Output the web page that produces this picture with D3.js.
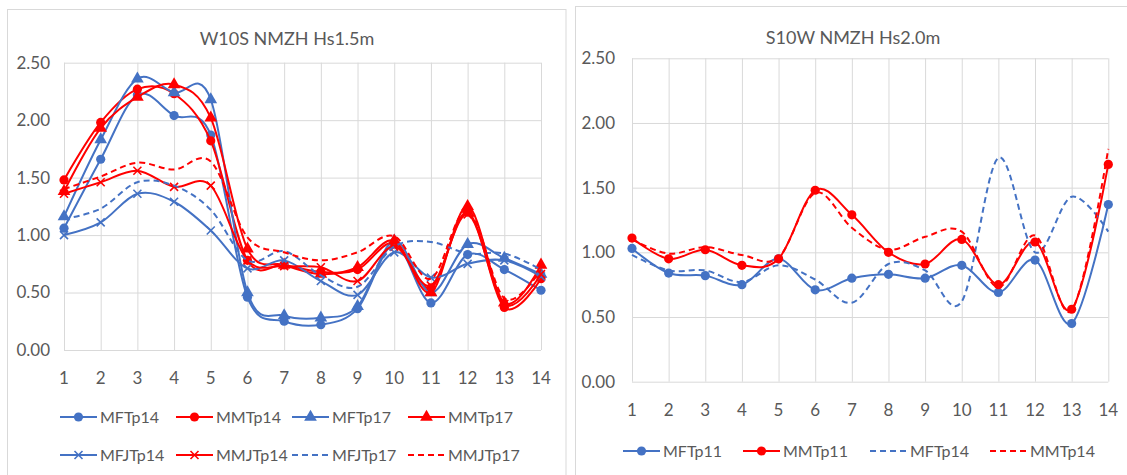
<!DOCTYPE html>
<html>
<head>
<meta charset="utf-8">
<script src="https://cdn.jsdelivr.net/npm/d3@7"></script>
<style>
  body { margin: 0; background: #fff; }
  text { font-family: Lato, "Open Sans", sans-serif; fill: #595959; }
</style>
</head>
<body>
<svg id="chart" width="1127" height="475"></svg>
<script>
// x positions (same for both panels)
var xTicks = [1, 2, 3, 4, 5, 6, 7, 8, 9, 10, 11, 12, 13, 14];
var yTicks = [0, 0.5, 1.0, 1.5, 2.0, 2.5];

// left panel: W10S NMZH Hs1.5m
var leftTitle = "W10S NMZH Hs1.5m";
var leftNames = ["MFTp14", "MMTp14", "MFTp17", "MMTp17", "MFJTp14", "MMJTp14", "MFJTp17", "MMJTp17"];
var MFTp14  = [1.06, 1.66, 2.22, 2.04, 1.87, 0.46, 0.25, 0.22, 0.36, 0.92, 0.41, 0.83, 0.70, 0.52];
var MMTp14  = [1.48, 1.98, 2.27, 2.23, 1.82, 0.78, 0.74, 0.68, 0.70, 0.93, 0.54, 1.20, 0.37, 0.62];
var MFTp17  = [1.16, 1.83, 2.36, 2.24, 2.18, 0.50, 0.30, 0.28, 0.38, 0.95, 0.50, 0.92, 0.80, 0.66];
var MMTp17  = [1.38, 1.93, 2.20, 2.31, 2.02, 0.88, 0.74, 0.66, 0.72, 0.95, 0.50, 1.25, 0.41, 0.74];
var MFJTp14 = [1.00, 1.11, 1.36, 1.29, 1.04, 0.71, 0.78, 0.60, 0.48, 0.85, 0.63, 0.75, 0.78, 0.64];
var MMJTp14 = [1.36, 1.46, 1.56, 1.42, 1.43, 0.78, 0.73, 0.72, 0.60, 0.90, 0.56, 1.18, 0.40, 0.66];
var MFJTp17 = [1.14, 1.23, 1.46, 1.43, 1.22, 0.78, 0.86, 0.65, 0.55, 0.90, 0.94, 0.84, 0.84, 0.70];
var MMJTp17 = [1.40, 1.51, 1.63, 1.57, 1.64, 0.98, 0.85, 0.78, 0.85, 0.99, 0.62, 1.22, 0.45, 0.70];

// right panel: S10W NMZH Hs2.0m
var rightTitle = "S10W NMZH Hs2.0m";
var rightNames = ["MFTp11", "MMTp11", "MFTp14", "MMTp14"];
var R_MFTp11 = [1.03, 0.84, 0.82, 0.75, 0.95, 0.71, 0.80, 0.83, 0.80, 0.90, 0.69, 0.94, 0.45, 1.37];
var R_MMTp11 = [1.11, 0.95, 1.02, 0.90, 0.95, 1.48, 1.29, 1.00, 0.91, 1.10, 0.75, 1.08, 0.56, 1.68];
var R_MFTp14 = [0.98, 0.86, 0.86, 0.77, 0.90, 0.79, 0.61, 0.91, 0.86, 0.62, 1.73, 1.00, 1.43, 1.16];
var R_MMTp14 = [1.10, 0.99, 1.04, 0.98, 0.96, 1.46, 1.19, 1.02, 1.12, 1.16, 0.73, 1.13, 0.55, 1.80];

var BLUE = "#4472c4", RED = "#ff0000";

// style for each series: colour, marker, dashed
var leftStyle = [
  { c: BLUE, m: "circle" }, { c: RED, m: "circle" },
  { c: BLUE, m: "triangle" }, { c: RED, m: "triangle" },
  { c: BLUE, m: "x" }, { c: RED, m: "x" },
  { c: BLUE, m: null, dash: true }, { c: RED, m: null, dash: true }
];
var rightStyle = [
  { c: BLUE, m: "circle" }, { c: RED, m: "circle" },
  { c: BLUE, m: null, dash: true }, { c: RED, m: null, dash: true }
];

var svg = d3.select("#chart");

// panel frames
svg.append("rect").attr("x", 7.5).attr("y", 9.5).attr("width", 558.5).attr("height", 480)
  .attr("fill", "none").attr("stroke", "#d9d9d9");
svg.append("rect").attr("x", 575.5).attr("y", 6.5).attr("width", 560).attr("height", 480)
  .attr("fill", "none").attr("stroke", "#d9d9d9");

function drawMarker(g, type, px, py, color) {
  if (type == "circle") {
    g.append("circle").attr("cx", px).attr("cy", py).attr("r", 4.6).attr("fill", color);
  } else if (type == "triangle") {
    g.append("path")
      .attr("transform", "translate(" + px + "," + py + ")")
      .attr("d", d3.symbol().type(d3.symbolTriangle).size(70)())
      .attr("fill", color);
  } else if (type == "x") {
    var s = 4;
    g.append("path")
      .attr("d", "M" + (px - s) + "," + (py - s) + "L" + (px + s) + "," + (py + s) +
                 "M" + (px - s) + "," + (py + s) + "L" + (px + s) + "," + (py - s))
      .attr("stroke", color).attr("stroke-width", 1.6).attr("fill", "none");
  }
}

function drawPanel(opt) {
  var x = d3.scaleLinear().domain([1, 14]).range([opt.left, opt.right]);
  var y = d3.scaleLinear().domain([0, 2.5]).range([opt.bottom, opt.top]);
  var g = svg.append("g");

  // grid
  g.append("g").attr("transform", "translate(0," + opt.bottom + ")")
    .call(d3.axisBottom(x).tickValues(xTicks).tickSize(-(opt.bottom - opt.top)).tickFormat(""))
    .call(function(a){ a.select(".domain").remove(); a.selectAll("line").attr("stroke", "#d9d9d9"); });
  g.append("g").attr("transform", "translate(" + opt.left + ",0)")
    .call(d3.axisLeft(y).tickValues(yTicks).tickSize(-(opt.right - opt.left)).tickFormat(""))
    .call(function(a){ a.select(".domain").remove(); a.selectAll("line").attr("stroke", "#d9d9d9"); });

  // tick labels
  g.selectAll(".ylab").data(yTicks).enter().append("text")
    .attr("x", opt.left - opt.ygap).attr("y", function(d){ return y(d); })
    .attr("dy", "0.35em").attr("text-anchor", "end").attr("font-size", 17)
    .text(function(d){ return d3.format(".2f")(d); });
  g.selectAll(".xlab").data(xTicks).enter().append("text")
    .attr("x", function(d){ return x(d); }).attr("y", opt.xlabY)
    .attr("dy", "0.35em").attr("text-anchor", "middle").attr("font-size", 17)
    .text(function(d){ return d; });

  // title
  g.append("text").attr("x", opt.titleX).attr("y", opt.titleY)
    .attr("text-anchor", "middle").attr("font-size", 18).text(opt.title);

  var line = d3.line()
    .x(function(d, i){ return x(xTicks[i]); })
    .y(function(d){ return y(d); })
    .curve(d3.curveCardinal.tension(0));

  opt.series.forEach(function(s, k){
    var st = opt.style[k];
    g.append("path").datum(s)
      .attr("d", line)
      .attr("fill", "none").attr("stroke", st.c).attr("stroke-width", 2)
      .attr("stroke-dasharray", st.dash ? "6,4" : null);
    if (st.m) {
      s.forEach(function(v, i){ drawMarker(g, st.m, x(xTicks[i]), y(v), st.c); });
    }
  });

  // legend
  opt.names.forEach(function(n, k){
    var st = opt.style[k];
    var col = k % opt.legCols.length, row = Math.floor(k / opt.legCols.length);
    var lx = opt.legCols[col], ly = opt.legRows[row];
    g.append("line").attr("x1", lx).attr("x2", lx + 37).attr("y1", ly).attr("y2", ly)
      .attr("stroke", st.c).attr("stroke-width", 2)
      .attr("stroke-dasharray", st.dash ? "6,4" : null);
    if (st.m) drawMarker(g, st.m, lx + 18.5, ly, st.c);
    g.append("text").attr("x", lx + 40).attr("y", ly).attr("dy", "0.35em")
      .attr("font-size", 16).text(n);
  });
}

drawPanel({
  left: 64, right: 541, top: 62.7, bottom: 350, ygap: 14, xlabY: 378,
  title: leftTitle, titleX: 287, titleY: 45,
  series: [MFTp14, MMTp14, MFTp17, MMTp17, MFJTp14, MMJTp14, MFJTp17, MMJTp17],
  names: leftNames, style: leftStyle,
  legCols: [60, 176, 292, 408], legRows: [417, 455]
});

drawPanel({
  left: 632, right: 1108.3, top: 58.3, bottom: 381.7, ygap: 17, xlabY: 410,
  title: rightTitle, titleX: 853, titleY: 43.5,
  series: [R_MFTp11, R_MMTp11, R_MFTp14, R_MMTp14],
  names: rightNames, style: rightStyle,
  legCols: [623, 743, 870, 990], legRows: [451]
});
</script>
</body>
</html>
